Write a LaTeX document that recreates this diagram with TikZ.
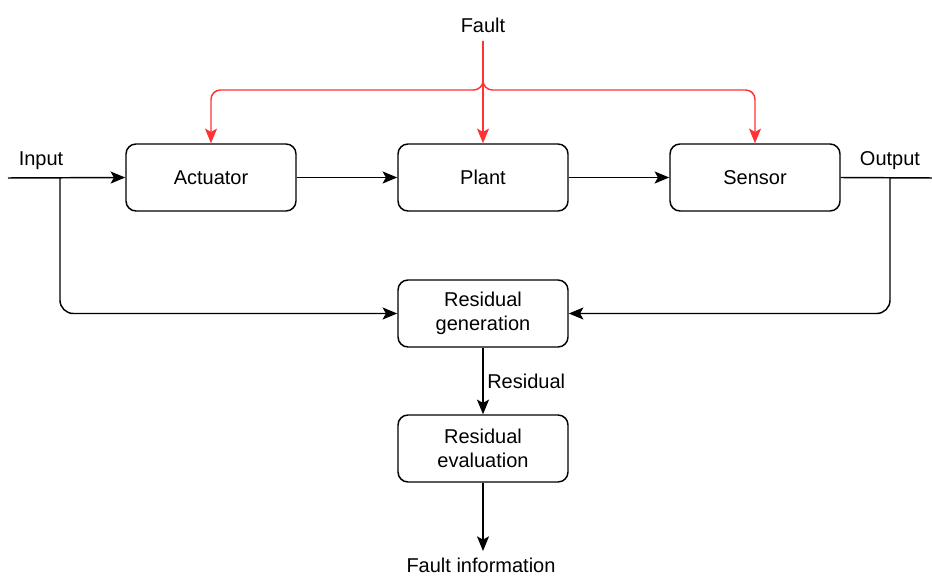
\documentclass[tikz,border=0pt]{standalone}
\usepackage{fontspec}
\setmainfont{Liberation Sans}
\usetikzlibrary{arrows.meta}
\definecolor{faultred}{HTML}{FF3333}
\tikzset{
  blockbox/.style={draw=black, line width=1.1pt, rounded corners=7.5pt, minimum width=127.5pt, minimum height=50.25pt, inner sep=0pt, align=center, font=\fontsize{15}{18}\selectfont},
  lbl/.style={inner sep=0pt, font=\fontsize{15}{18}\selectfont},
  conn/.style={line width=1.1pt, -{Stealth[length=11pt,width=9pt,inset=2.5pt]}},
  redconn/.style={conn, draw=faultred, rounded corners=7pt},
}
\begin{document}
\begin{tikzpicture}[x=0.75pt,y=-0.75pt]
\useasboundingbox (0,0) rectangle (932,577);
\node[blockbox] (act) at (211,177.5) {Actuator};
\node[blockbox] (plant) at (483,177.5) {Plant};
\node[blockbox] (sens) at (755,177.5) {Sensor};
\node[blockbox] (rgen) at (483,313.5) {Residual\\generation};
\node[blockbox] (reval) at (483,448.5) {Residual\\evaluation};
\node[lbl] (fault) at (483,25) {Fault};
\node[lbl] (inp) at (41,161) {Input};
\node[lbl] (outp) at (890,161) {Output};
\node[lbl, anchor=west] (res) at (487,381) {Residual};
\node[lbl] (finfo) at (481,565) {Fault information};
\coordinate (fs) at (483,41);
\coordinate (fj) at (483,90);
\coordinate (inl) at (8,178);
\coordinate (outr) at (932,178);
\coordinate (fiend) at (483,551);
% fault arrows
\draw[redconn] (fs) -- (plant.north);
\draw[redconn] (fs) -- (fj) -| (act.north);
\draw[redconn] (fs) -- (fj) -| (sens.north);
% main chain
\draw[conn] (inl) -- (act.west);
\draw[conn] (act.east) -- (plant.west);
\draw[conn] (plant.east) -- (sens.west);
\draw[line width=1.1pt] (sens.east) -- (outr);
\draw[conn, rounded corners=10pt] (60,178) |- (rgen.west);
\draw[conn, rounded corners=10pt] (890,178) |- (rgen.east);
\draw[conn] (rgen.south) -- (reval.north);
\draw[conn] (reval.south) -- (fiend);
\end{tikzpicture}
\end{document}
